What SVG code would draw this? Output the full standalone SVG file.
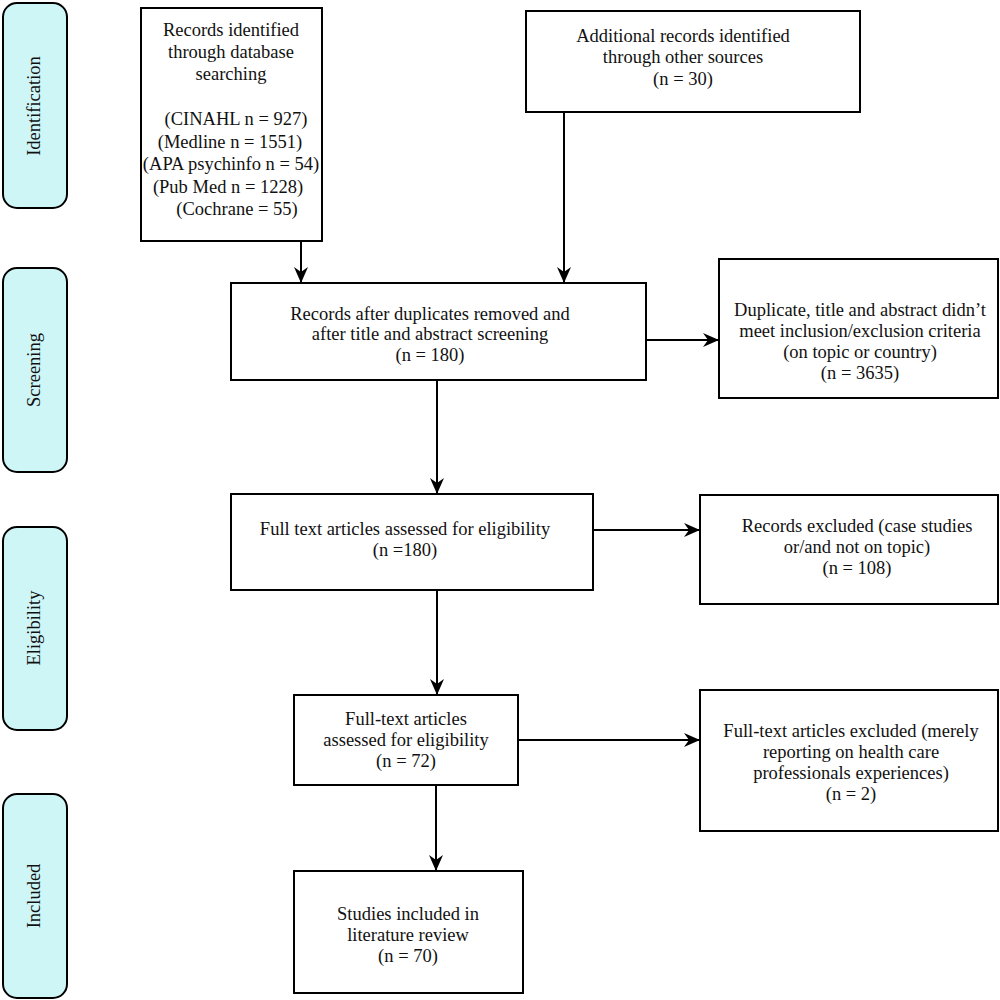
<svg xmlns="http://www.w3.org/2000/svg" width="1000" height="1000" viewBox="0 0 1000 1000">
<defs>
<marker id="ah" viewBox="0 0 16 14" refX="16" refY="7" markerWidth="16" markerHeight="14" markerUnits="userSpaceOnUse" orient="auto">
<path d="M0,0 L16,7 L0,14 L5,7 Z" fill="#000"/>
</marker>
<style>
.box{fill:#fff;stroke:#000;stroke-width:2}
.side{fill:#cff6f7;stroke:#000;stroke-width:2}
text{font-family:"Liberation Serif","Times New Roman",serif;font-size:18.5px;fill:#111;text-anchor:middle}
.con{stroke:#000;stroke-width:2;fill:none;marker-end:url(#ah)}
</style>
</defs>
<rect width="1000" height="1000" fill="#fff"/>

<g id="stage-identification">
<rect class="side" x="3" y="3" width="64" height="205" rx="14"/>
<text transform="translate(40,106) rotate(-90)">Identification</text>
</g>
<g id="stage-screening">
<rect class="side" x="3" y="268" width="64" height="204" rx="14"/>
<text transform="translate(40,370) rotate(-90)">Screening</text>
</g>
<g id="stage-eligibility">
<rect class="side" x="3" y="527" width="64" height="203" rx="14"/>
<text transform="translate(40,628) rotate(-90)">Eligibility</text>
</g>
<g id="stage-included">
<rect class="side" x="3" y="794" width="64" height="204" rx="14"/>
<text transform="translate(40,896) rotate(-90)">Included</text>
</g>

<g id="connectors">
<line class="con" x1="301" y1="241" x2="301" y2="283"/>
<line class="con" x1="564" y1="112" x2="564" y2="283"/>
<line class="con" x1="646" y1="340" x2="719" y2="340"/>
<line class="con" x1="437" y1="380" x2="437" y2="494"/>
<line class="con" x1="593" y1="530" x2="700" y2="530"/>
<line class="con" x1="437" y1="590" x2="437" y2="695"/>
<line class="con" x1="518" y1="740" x2="700" y2="740"/>
<line class="con" x1="436" y1="785" x2="436" y2="871"/>
</g>

<g id="db-records">
<rect class="box" x="141" y="8" width="181" height="233"/>
<text x="231" y="36">Records identified</text>
<text x="231" y="58">through database</text>
<text x="231" y="80">searching</text>
<text x="236" y="125">(CINAHL n = 927)</text>
<text x="230" y="148">(Medline n = 1551)</text>
<text x="231" y="170">(APA psychinfo n = 54)</text>
<text x="228" y="193">(Pub Med n = 1228)</text>
<text x="237" y="215">(Cochrane = 55)</text>
</g>

<g id="other-records">
<rect class="box" x="526" y="11" width="334" height="101"/>
<text x="683" y="42">Additional records identified</text>
<text x="683" y="63">through other sources</text>
<text x="683" y="85">(n = 30)</text>
</g>

<g id="after-duplicates">
<rect class="box" x="231" y="283" width="415" height="97"/>
<text x="430" y="320">Records after duplicates removed and</text>
<text x="430" y="340">after title and abstract screening</text>
<text x="430" y="361">(n = 180)</text>
</g>

<g id="excluded-screening">
<rect class="box" x="719" y="259" width="279" height="139"/>
<text x="860" y="316">Duplicate, title and abstract didn’t</text>
<text x="860" y="337">meet inclusion/exclusion criteria</text>
<text x="860" y="358">(on topic or country)</text>
<text x="860" y="379">(n = 3635)</text>
</g>

<g id="full-text-1">
<rect class="box" x="231" y="494" width="362" height="96"/>
<text x="405" y="535">Full text articles assessed for eligibility</text>
<text x="405" y="556">(n  =180)</text>
</g>

<g id="excluded-eligibility">
<rect class="box" x="700" y="495" width="298" height="109"/>
<text x="857" y="532">Records excluded (case studies</text>
<text x="857" y="553">or/and not on topic)</text>
<text x="857" y="574">(n = 108)</text>
</g>

<g id="full-text-2">
<rect class="box" x="294" y="695" width="224" height="90"/>
<text x="406" y="725">Full-text articles</text>
<text x="406" y="746">assessed for eligibility</text>
<text x="406" y="767">(n = 72)</text>
</g>

<g id="excluded-full-text">
<rect class="box" x="700" y="690" width="298" height="141"/>
<text x="851" y="737">Full-text articles excluded (merely</text>
<text x="851" y="758">reporting on health care</text>
<text x="851" y="779">professionals experiences)</text>
<text x="851" y="800">(n = 2)</text>
</g>

<g id="included-studies">
<rect class="box" x="294" y="871" width="229" height="122"/>
<text x="408" y="920">Studies included in</text>
<text x="408" y="941">literature review</text>
<text x="408" y="962">(n = 70)</text>
</g>
</svg>
